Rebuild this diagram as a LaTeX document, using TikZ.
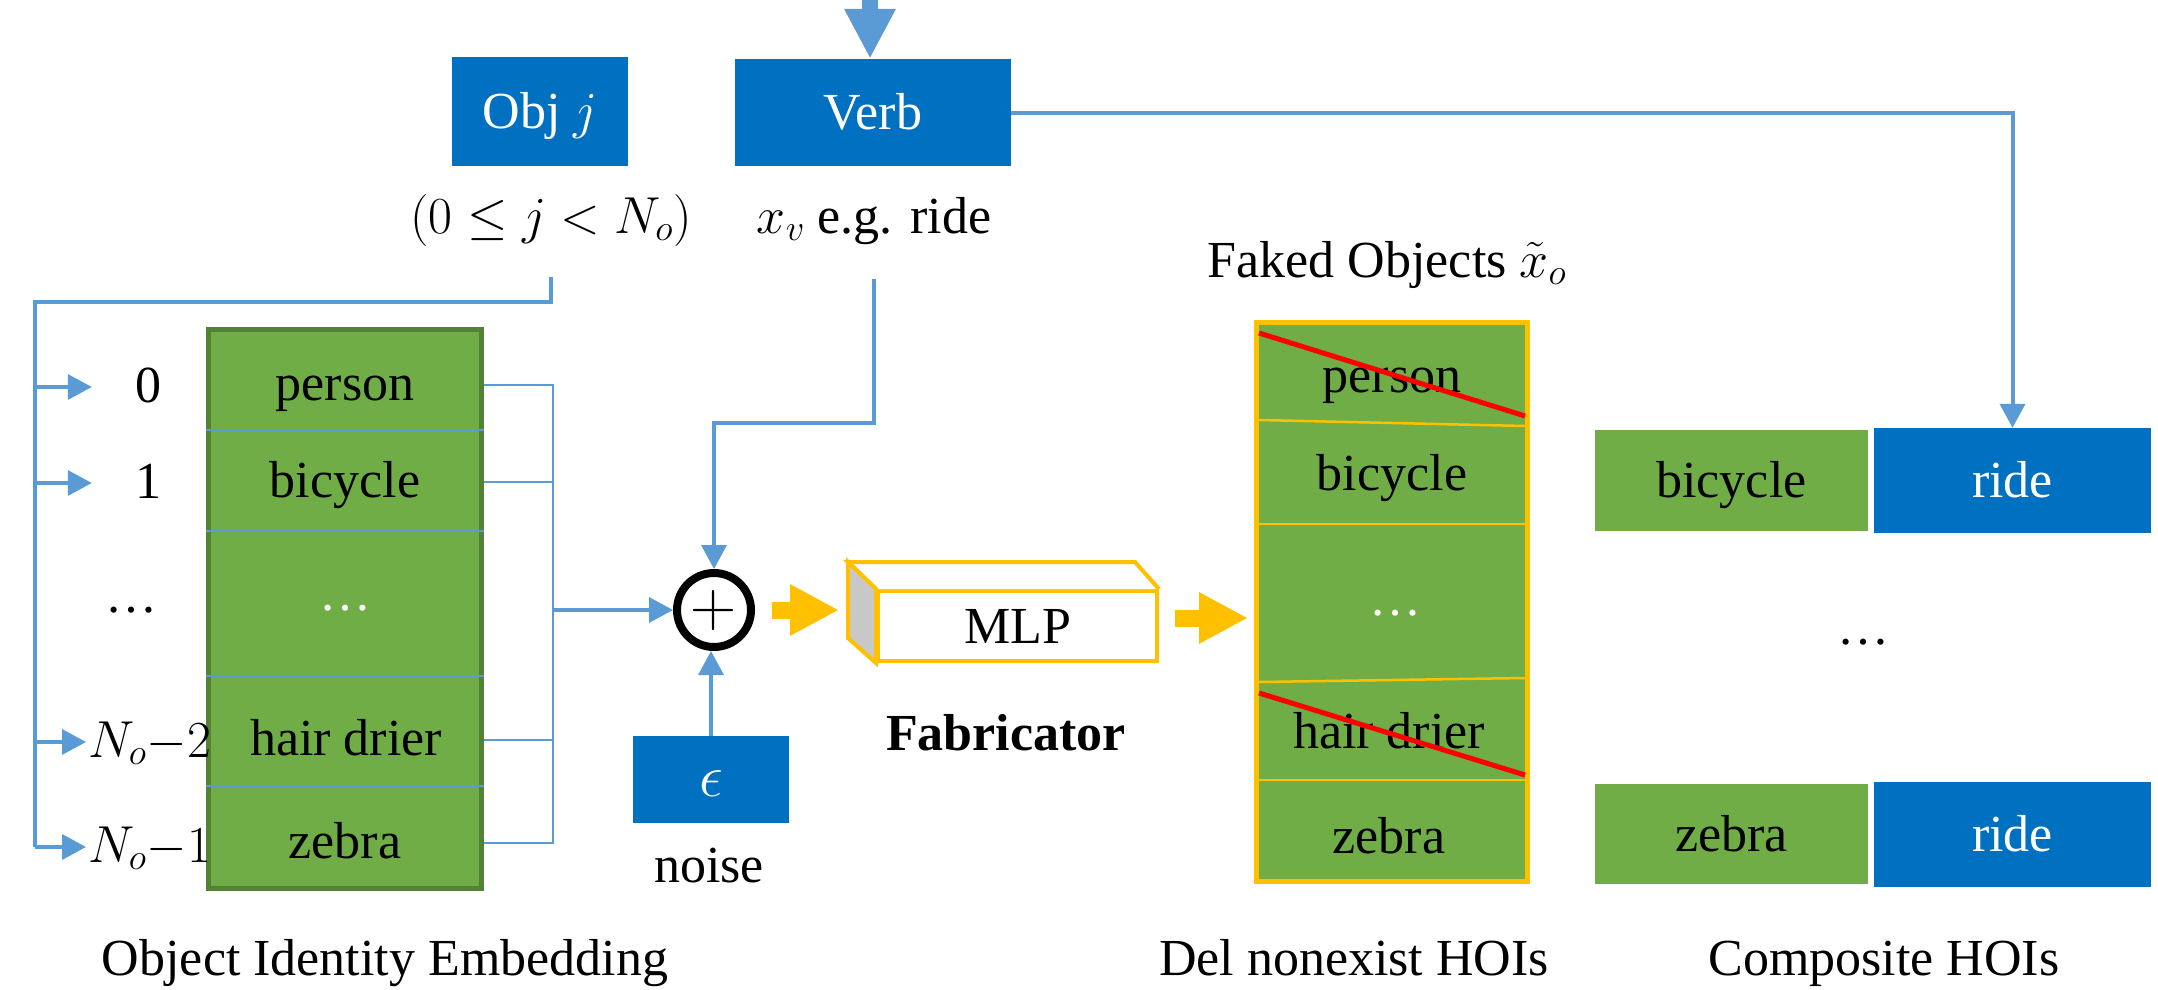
\RequirePackage{fix-cm}
\documentclass[tikz,border=0pt]{standalone}
\usepackage{fontspec}
\setmainfont{Liberation Serif}
\usetikzlibrary{arrows.meta,calc}

\definecolor{boxblue}{RGB}{0,112,192}
\definecolor{boxgreen}{RGB}{112,173,71}
\definecolor{darkgreen}{RGB}{84,130,53}
\definecolor{linkblue}{RGB}{91,155,213}
\definecolor{fabyellow}{RGB}{255,192,0}
\definecolor{sidegray}{RGB}{200,200,200}

\begin{document}
\begin{tikzpicture}[x=1pt,y=1pt,yscale=-1,xscale=1,
  font=\fontsize{52}{62}\selectfont,
  txt/.style={inner sep=0pt,text height=34pt,text depth=4pt},
  bluebox/.style={fill=boxblue,text=white,inner sep=0pt,text height=34pt,text depth=0pt},
  greenbox/.style={fill=boxgreen,inner sep=0pt,text height=34pt,text depth=0pt},
  conn/.style={draw=linkblue,line width=3.5pt},
  linktip/.style={-{Triangle[length=24pt,width=25pt]}},
  yarrow/.style={draw=fabyellow,line width=17pt,-{Triangle[length=49pt,width=48pt]}}]
\useasboundingbox (0,0) rectangle (2158,990);

% Obj and Verb boxes
\node[bluebox,minimum width=176pt,minimum height=109pt] (obj) at (540,111.5) {Obj $j$};
\node[bluebox,minimum width=276pt,minimum height=107pt] (verb) at (873,112.5) {Verb};
% Text Node
\node[txt] (objrange) at (551,218) {$(0\leq j<N_o)$};
% Text Node
\node[txt] (xv) at (874,218) {$x_v$ e.g. ride};

% Object identity embedding
\node[draw=darkgreen,line width=5pt,fill=boxgreen,minimum width=273pt,minimum height=559pt,inner sep=0pt] (ebox) at (345,609) {};
\foreach \y in {430,531,676,786}
  \draw[linkblue,line width=2pt] (ebox.west |- 0,\y) -- (ebox.east |- 0,\y);
\node[txt] (eperson) at (345,385) {person};
\node[txt] (ebike) at (345,482) {bicycle};
\node[txt,text=white] (edots) at (345,595) {\dots};
\node[txt] (edrier) at (346,740) {hair drier};
\node[txt] (ezebra) at (345,843) {zebra};

% Index labels
\node[txt] (idx0) at (148,387) {0};
\node[txt] (idx1) at (148,483) {1};
\node[txt] (idxdots) at (131,597) {\dots};
\node[txt,anchor=west] (idxN2) at (88,742) {$N_o{-}2$};
\node[txt,anchor=west] (idxN1) at (88,847) {$N_o{-}1$};

% Index bus
\coordinate (bus) at (35,302);
\draw[conn,line width=4pt] ([yshift=40pt]objrange.south) |- (bus) -- (bus |- idxN1);
\foreach \n/\g in {idx0/43,idx1/43,idxN2/2,idxN1/2}
  \draw[conn,linktip] (bus |- \n) -- ([xshift=-\g pt]\n.west);

% Sum node
\node[circle,draw=black,line width=8pt,minimum size=74pt,inner sep=0pt,font=\fontsize{64}{64}\selectfont] (plus) at (714,610) {$+$};

% Bracket into the sum
\coordinate (brk) at (553,610);
\foreach \r in {eperson,ebike,edrier,ezebra}
  \draw[conn,line width=2.5pt] (ebox.east |- \r) -| (brk);
\draw[conn,linktip] (brk) -- (plus.west);

% Verb into the sum
\draw[conn,linktip] ([yshift=42pt]xv.south) -- ([yshift=186pt]xv.south) -| (plus.north);

% Noise
\node[bluebox,minimum width=156pt,minimum height=87pt,font=\fontsize{60}{60}\selectfont] (eps) at (711,779.5) {$\epsilon$};
\draw[conn,linktip] (eps.north) -- (eps.north |- plus.south);
% Text Node
\node[txt] (noise) at (709,867) {noise};

% MLP block
\node[draw=fabyellow,line width=4pt,fill=white,minimum width=279pt,minimum height=70pt,inner sep=0pt,text height=34pt,text depth=0pt] (mlp) at (1017.5,626) {MLP};
\draw[fabyellow,line width=4pt,fill=white] (mlp.north west) -- ++(-28,-27) -- ++(287,0) -- (mlp.north east);
\draw[fabyellow,line width=4pt,fill=sidegray] (mlp.north west) -- ++(-28,-27) -- ++(0,76) -- (mlp.south west) -- cycle;
% Text Node
\node[txt,font=\fontsize{52}{62}\selectfont\bfseries] (fab) at (1006,735) {Fabricator};

% Faked objects
\node[draw=fabyellow,line width=5pt,fill=boxgreen,minimum width=271pt,minimum height=559pt,inner sep=0pt] (fake) at (1392,602) {};
\draw[fabyellow,line width=2.5pt] (1259,420) -- (1525,426);
\draw[fabyellow,line width=2.5pt] (1259,524) -- (1525,524);
\draw[fabyellow,line width=2.5pt] (1259,682) -- (1525,678);
\draw[fabyellow,line width=2.5pt] (1259,780) -- (1525,780);
\node[txt] (fperson) at (1392,377) {person};
\node[txt] (fbike) at (1392,475) {bicycle};
\node[txt,text=white] (fdots) at (1395,600) {\dots};
\node[txt] (fdrier) at (1389,733) {hair drier};
\node[txt] (fzebra) at (1389,838) {zebra};
\draw[red,line width=5pt] (1259,333) -- (1525,416);
\draw[red,line width=5pt] (1259,693) -- (1525,775);
% Text Node
\node[txt] (faked) at (1387,262) {Faked Objects $\tilde{x}_o$};

% Fabricator arrows
\draw[yarrow] ([xshift=17pt]plus.east) -- ([xshift=-37pt]mlp.west |- plus);
\draw[yarrow] ([xshift=16pt,yshift=-8pt]mlp.east) -- ([xshift=-6pt,yshift=-8pt]fake.west |- mlp.east);

% Composite HOIs
\node[greenbox,minimum width=273pt,minimum height=101pt] (cbike) at (1731.5,480.5) {bicycle};
\node[bluebox,minimum width=277pt,minimum height=105pt] (cride1) at (2012.5,480.5) {ride};
\node[txt] (cdots) at (1863,629) {\dots};
\node[greenbox,minimum width=273pt,minimum height=100pt] (czebra) at (1731.5,834) {zebra};
\node[bluebox,minimum width=277pt,minimum height=105pt] (cride2) at (2012.5,834.5) {ride};

% Verb to composite
\draw[conn,line width=4pt,linktip] (verb.east) -| (cride1.north);
\coordinate (verbin) at (870,0);
\draw[draw=linkblue,line width=16pt,-{Triangle[length=50pt,width=48pt]}] (verbin) -- (verbin |- verb.north);

% Captions
\node[txt] (embcap) at (385,960) {Object Identity Embedding};
\node[txt] (delcap) at (1354,960) {Del nonexist HOIs};
\node[txt] (compcap) at (1884,960) {Composite HOIs};

\end{tikzpicture}
\end{document}
